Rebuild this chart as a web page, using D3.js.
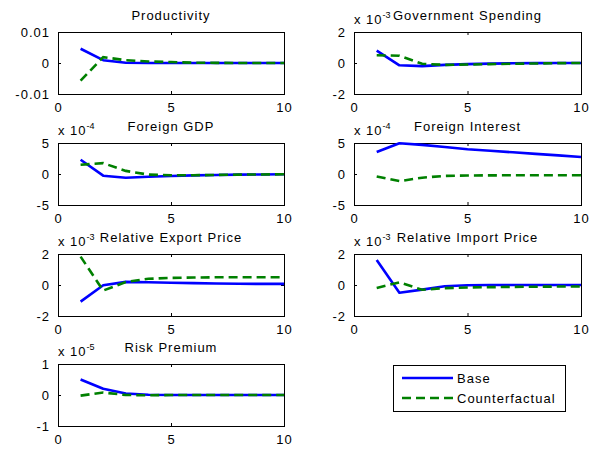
<!DOCTYPE html>
<html>
<head>
<meta charset="utf-8">
<script src="https://cdn.jsdelivr.net/npm/d3@7"></script>
<style>
  html, body { margin: 0; padding: 0; background: #fff; }
  svg { display: block; }
  text { font-family: "Liberation Sans", Arial, sans-serif; fill: #000; }
</style>
</head>
<body>
<svg id="chart" width="589" height="451"></svg>
<script>
// Impulse responses over 10 periods, base vs counterfactual
const periods = [1, 2, 3, 4, 5, 6, 7, 8, 9, 10];
const xTicks = [0, 5, 10];

const panelTitles = ["Productivity", "Government Spending", "Foreign GDP", "Foreign Interest",
  "Relative Export Price", "Relative Import Price", "Risk Premium"];
// power-of-ten multiplier shown above each panel (null = none)
const panelExponents = [null, -3, -4, -4, -3, -3, -5];
// symmetric y limits, in the displayed units
const panelLimits = [0.01, 2, 5, 5, 2, 2, 1];
const yTickLabels = [["-0.01", "0", "0.01"], ["-2", "0", "2"], ["-5", "0", "5"], ["-5", "0", "5"],
  ["-2", "0", "2"], ["-2", "0", "2"], ["-1", "0", "1"]];

// Series values (displayed units, i.e. already scaled by the exponent)
const productivityBase = [0.0046, 0.0009, 0.0001, 0, 0, 0, 0, 0, 0, 0];
const productivityCf = [-0.0057, 0.0019, 0.0009, 0.0005, 0.0003, 0.0001, 0.00005, 0, 0, 0];
const govSpendingBase = [0.8, -0.15, -0.2, -0.12, -0.07, -0.04, -0.02, -0.01, 0, 0];
const govSpendingCf = [0.5, 0.47, -0.05, -0.12, -0.1, -0.07, -0.05, -0.03, -0.01, 0];
const foreignGdpBase = [2.3, -0.27, -0.6, -0.45, -0.32, -0.22, -0.15, -0.1, -0.07, -0.05];
const foreignGdpCf = [1.5, 1.75, 0.5, -0.1, -0.2, -0.2, -0.15, -0.1, -0.07, -0.05];
const foreignInterestBase = [3.56, 4.95, 4.7, 4.35, 4.0, 3.75, 3.5, 3.25, 3.0, 2.75];
const foreignInterestCf = [-0.4, -1.15, -0.6, -0.3, -0.25, -0.22, -0.2, -0.2, -0.2, -0.2];
const exportPriceBase = [-1.07, -0.02, 0.2, 0.18, 0.15, 0.12, 0.1, 0.08, 0.07, 0.07];
const exportPriceCf = [1.83, -0.36, 0.19, 0.4, 0.46, 0.48, 0.5, 0.5, 0.5, 0.5];
const importPriceBase = [1.62, -0.5, -0.3, -0.08, -0.02, 0, 0, 0, 0, 0];
const importPriceCf = [-0.19, 0.17, -0.31, -0.2, -0.16, -0.14, -0.12, -0.11, -0.1, -0.1];
const riskPremiumBase = [0.5, 0.2, 0.05, 0.01, 0, 0, 0, 0, 0, 0];
const riskPremiumCf = [-0.02, 0.08, 0, -0.01, 0, 0, 0, 0, 0, 0];

const baseSeries = [productivityBase, govSpendingBase, foreignGdpBase, foreignInterestBase,
  exportPriceBase, importPriceBase, riskPremiumBase];
const cfSeries = [productivityCf, govSpendingCf, foreignGdpCf, foreignInterestCf,
  exportPriceCf, importPriceCf, riskPremiumCf];

const legendLabels = ["Base", "Counterfactual"];
const BLUE = "#0000ff", GREEN = "#008000";

const svg = d3.select("#chart");
const colX = [[58, 284], [354, 581]];
const rowTop = [32, 143, 254, 364];
const panelH = 62;
const fontSize = 13, spacing = 1;

panelTitles.forEach((title, i) => {
  const col = i % 2, row = Math.floor(i / 2);
  const [x0, x1] = colX[col];
  const y0 = rowTop[row], y1 = y0 + panelH;
  const lim = panelLimits[i];

  const x = d3.scaleLinear().domain([0, 10]).range([x0, x1]);
  const y = d3.scaleLinear().domain([-lim, lim]).range([y1, y0]);
  const yTicks = [-lim, 0, lim];

  const g = svg.append("g");

  // axes with inward ticks, labels outside
  const axB = d3.axisBottom(x).tickValues(xTicks).tickSize(-3).tickPadding(9).tickFormat(d3.format("d"));
  const axT = d3.axisTop(x).tickValues(xTicks).tickSize(-3).tickFormat("");
  const axL = d3.axisLeft(y).tickValues(yTicks).tickSize(-3).tickPadding(8)
    .tickFormat((d, k) => yTickLabels[i][k]);
  const axR = d3.axisRight(y).tickValues(yTicks).tickSize(-3).tickFormat("");

  [[axB, `translate(0,${y1})`], [axT, `translate(0,${y0})`],
   [axL, `translate(${x0},0)`], [axR, `translate(${x1},0)`]].forEach(([ax, tr]) => {
    const a = g.append("g").attr("transform", tr).call(ax);
    a.select(".domain").remove();
    a.selectAll("line").attr("stroke", "#000").attr("stroke-width", 1);
    a.selectAll("text").attr("font-size", fontSize).attr("letter-spacing", spacing)
      .attr("font-family", '"Liberation Sans", Arial, sans-serif').attr("fill", "#000");
  });

  g.append("rect").attr("x", x0 + 0.5).attr("y", y0 + 0.5)
    .attr("width", x1 - x0).attr("height", panelH)
    .attr("fill", "none").attr("stroke", "#000").attr("stroke-width", 1);

  const line = d3.line().x((d, k) => x(periods[k])).y(d => y(d));

  g.append("path").datum(baseSeries[i]).attr("d", line)
    .attr("fill", "none").attr("stroke", BLUE).attr("stroke-width", 2.6)
    .attr("stroke-linejoin", "round");
  g.append("path").datum(cfSeries[i]).attr("d", line)
    .attr("fill", "none").attr("stroke", GREEN).attr("stroke-width", 2.6)
    .attr("stroke-dasharray", "9,5");

  // exponent multiplier
  if (panelExponents[i] !== null) {
    const t = g.append("text").attr("x", x0).attr("y", y0 - 8)
      .attr("font-size", fontSize).attr("letter-spacing", spacing);
    t.append("tspan").text("x 10");
    t.append("tspan").attr("dy", -6).attr("font-size", 9).attr("letter-spacing", 0)
      .text(String(panelExponents[i]));
  }

  // panel title
  g.append("text").attr("x", (x0 + x1) / 2).attr("y", y0 - 12.5)
    .attr("text-anchor", "middle").attr("font-size", fontSize).attr("letter-spacing", spacing)
    .text(title);
});

// legend
const lg = svg.append("g");
lg.append("rect").attr("x", 393.5).attr("y", 365.5).attr("width", 172).attr("height", 46)
  .attr("fill", "#fff").attr("stroke", "#000").attr("stroke-width", 1);
[[BLUE, null, 378], [GREEN, "9,5", 398]].forEach(([c, dash, ly], k) => {
  lg.append("line").attr("x1", 402).attr("x2", 453).attr("y1", ly).attr("y2", ly)
    .attr("stroke", c).attr("stroke-width", 2.6).attr("stroke-dasharray", dash);
  lg.append("text").attr("x", 457).attr("y", ly + 4.5).attr("font-size", fontSize)
    .attr("letter-spacing", spacing).text(legendLabels[k]);
});
</script>
</body>
</html>
